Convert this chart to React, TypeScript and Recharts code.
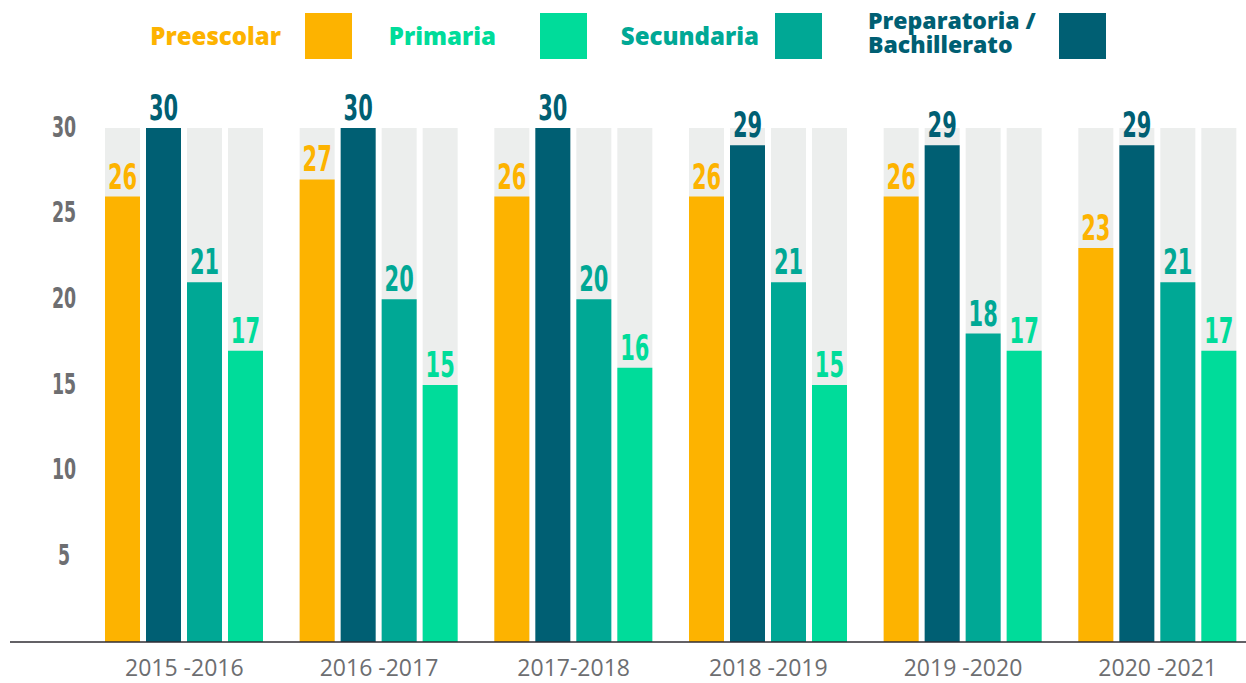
import { BarChart, Bar, XAxis, YAxis, LabelList } from "recharts";

const periods = ["2015 -2016", "2016 -2017", "2017-2018", "2018 -2019", "2019 -2020", "2020 -2021"];
const preescolar = [26, 27, 26, 26, 26, 23];
const preparatoria = [30, 30, 30, 29, 29, 29];
const secundaria = [21, 20, 20, 21, 18, 21];
const primaria = [17, 15, 16, 15, 17, 17];
const yTicks = [5, 10, 15, 20, 25, 30];

const COLORS = {
  preescolar: "#FDB300",
  preparatoria: "#005F73",
  secundaria: "#00A895",
  primaria: "#00DC9A",
};

const condensed = "'DejaVu Sans', sans-serif";
const heavy = "'Open Sans', 'Noto Sans', sans-serif";

const data = periods.map((p, i) => ({
  periodo: p,
  preescolar: preescolar[i],
  preparatoria: preparatoria[i],
  secundaria: secundaria[i],
  primaria: primaria[i],
}));

const series = [
  { key: "preescolar", color: COLORS.preescolar },
  { key: "preparatoria", color: COLORS.preparatoria },
  { key: "secundaria", color: COLORS.secundaria },
  { key: "primaria", color: COLORS.primaria },
];

// squeeze text horizontally around its anchor to mimic a condensed face
const squeeze = (x: number, y: number, k: number) =>
  `translate(${x},${y}) scale(${k},1) translate(${-x},${-y})`;

function ValueLabel(props: any) {
  const { x, y, width, value, fill } = props;
  const cx = Number(x) + Number(width) / 2;
  const cy = Number(y) - 8;
  return (
    <text
      x={cx}
      y={cy}
      textAnchor="middle"
      fill={fill}
      fontSize={35}
      fontWeight={700}
      fontFamily={condensed}
      transform={squeeze(cx, cy, 0.6)}
    >
      {value}
    </text>
  );
}

function YTick(props: any) {
  const { x, y, payload } = props;
  return (
    <text
      x={x}
      y={y}
      dy="0.3em"
      textAnchor="middle"
      fill="#6d6e71"
      fontSize={29}
      fontWeight={700}
      fontFamily={condensed}
      transform={squeeze(x, y, 0.6)}
    >
      {payload.value}
    </text>
  );
}

const legendText = { position: "absolute" as const, fontFamily: heavy, fontWeight: 800, fontSize: 24, lineHeight: "24px", whiteSpace: "nowrap" as const };
const square = { position: "absolute" as const, top: 13, width: 47, height: 46 };

function Legend() {
  return (
    <>
      <div style={{ ...legendText, right: 1246 - 281, top: 24, color: COLORS.preescolar }}>Preescolar</div>
      <div style={{ ...square, left: 305, background: COLORS.preescolar }} />
      <div style={{ ...legendText, right: 1246 - 496, top: 24, color: COLORS.primaria }}>Primaria</div>
      <div style={{ ...square, left: 540, background: COLORS.primaria }} />
      <div style={{ ...legendText, right: 1246 - 759, top: 24, color: COLORS.secundaria }}>Secundaria</div>
      <div style={{ ...square, left: 775, background: COLORS.secundaria }} />
      <div style={{ ...legendText, left: 868, top: 8, fontSize: 23, color: COLORS.preparatoria }}>
        <div>Preparatoria /</div>
        <div>Bachillerato</div>
      </div>
      <div style={{ ...square, left: 1059, background: COLORS.preparatoria }} />
    </>
  );
}

export default function App() {
  return (
    <div style={{ position: "absolute", left: 0, top: 0, width: 1246, height: 683, overflow: "hidden", background: "#fff" }}>
      <Legend />
      <BarChart
        width={1262}
        height={683}
        data={data}
        margin={{ top: 128, right: 7, bottom: 0, left: 10 }}
        barSize={35}
        barGap={6}
      >
        <XAxis
          dataKey="periodo"
          height={41}
          padding={{ left: 77, right: 0 }}
          axisLine={{ stroke: "#2f2c33", strokeWidth: 1.5 }}
          tickLine={false}
          tickSize={0}
          tickMargin={18}
          tick={{ fill: "#6d6e71", fontSize: 23, fontFamily: heavy }}
          interval={0}
        />
        <YAxis
          mirror
          domain={[0, 30]}
          ticks={yTicks}
          axisLine={false}
          tickLine={false}
          tickSize={0}
          tickMargin={54}
          tick={<YTick />}
        />
        {series.map((s) => (
          <Bar
            key={s.key}
            dataKey={s.key}
            fill={s.color}
            background={{ fill: "#ECEEED" }}
            isAnimationActive={false}
          >
            <LabelList dataKey={s.key} fill={s.color} content={<ValueLabel fill={s.color} />} />
          </Bar>
        ))}
      </BarChart>
    </div>
  );
}
